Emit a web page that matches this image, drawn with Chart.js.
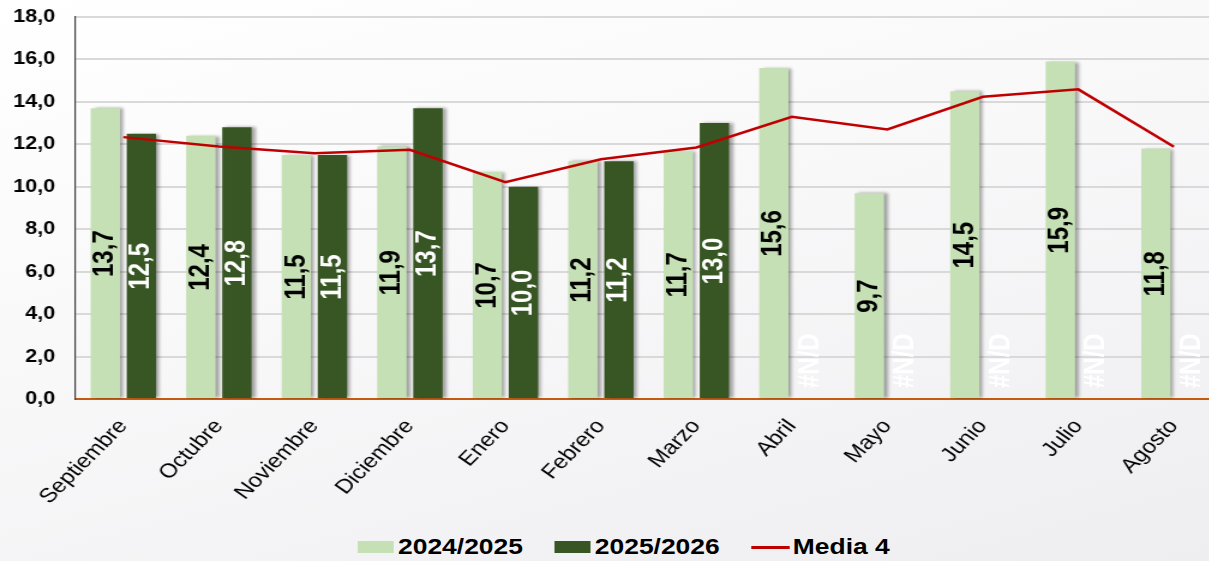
<!DOCTYPE html>
<html>
<head>
<meta charset="utf-8">
<script src="https://cdn.jsdelivr.net/npm/chart.js@4.4.1/dist/chart.umd.min.js"></script>
<style>
  html, body { margin: 0; padding: 0; }
  body {
    width: 1209px; height: 561px; overflow: hidden; position: relative;
    background: linear-gradient(165deg, #ffffff 0%, #f8f8f9 45%, #eeeef1 100%);
    font-family: "Liberation Sans", Arial, sans-serif;
  }
  #wrap {
    position: absolute; left: 0; top: 0; width: 1021px; height: 525px;
    transform: scaleX(1.2); transform-origin: 0 0;
  }
  #legend {
    position: absolute; left: 0; top: 532px; width: 1209px; height: 30px;
    display: flex; justify-content: center; align-items: center;
    font-weight: bold; font-size: 22px; color: #000;
    transform: translateX(19px) scaleX(1.2);
  }
  .item { display: flex; align-items: center; margin: 0 13px; }
  .box { width: 30px; height: 12px; margin-right: 4px; }
  .line { width: 32px; height: 3px; margin-right: 3px; }
</style>
</head>
<body>
<div id="wrap"><canvas id="c" width="1021" height="525"></canvas></div>
<div id="legend"></div>
<script>
const categories = ['Septiembre','Octubre','Noviembre','Diciembre','Enero','Febrero','Marzo','Abril','Mayo','Junio','Julio','Agosto'];
const serie2425 = [13.7, 12.4, 11.5, 11.9, 10.7, 11.2, 11.7, 15.6, 9.7, 14.5, 15.9, 11.8];
const serie2526 = [12.5, 12.8, 11.5, 13.7, 10.0, 11.2, 13.0, null, null, null, null, null];
const media4 = [12.34, 11.9, 11.58, 11.74, 10.22, 11.3, 11.85, 13.3, 12.7, 14.24, 14.59, 11.89];
const yTicks = [0, 2, 4, 6, 8, 10, 12, 14, 16, 18];

const names = ['2024/2025', '2025/2026', 'Media 4'];
const colors = ['#C5E0B4', '#375623', '#C00000'];

const fmt = v => v.toFixed(1).replace('.', ',');
const FONT = '"Liberation Sans", Arial, sans-serif';

const shadowPlugin = {
  id: 'barShadow',
  beforeDatasetDraw(chart, args) {
    if (args.meta.type !== 'bar') return;
    const ctx = chart.ctx;
    ctx.save();
    ctx.shadowColor = 'rgba(0,0,0,0.35)';
    ctx.shadowOffsetX = 3;
    ctx.shadowOffsetY = 0;
    ctx.shadowBlur = 3;
  },
  afterDatasetDraw(chart, args) {
    if (args.meta.type !== 'bar') return;
    chart.ctx.restore();
  }
};

const labelPlugin = {
  id: 'barLabels',
  afterDatasetsDraw(chart) {
    const ctx = chart.ctx;
    const yScale = chart.scales.y;
    const base = yScale.getPixelForValue(0);
    [0, 1].forEach(di => {
      const meta = chart.getDatasetMeta(di);
      const data = chart.data.datasets[di].data;
      meta.data.forEach((el, i) => {
        const v = data[i];
        ctx.save();
        ctx.font = 'bold 24px ' + FONT;
        ctx.fillStyle = di === 0 ? '#000000' : '#ffffff';
        ctx.textBaseline = 'middle';
        if (v === null || v === undefined) {
          ctx.translate(el.x, base - 11);
          ctx.rotate(-Math.PI / 2);
          ctx.textAlign = 'left';
          ctx.fillText('#N/D', 0, 0);
        } else {
          const top = yScale.getPixelForValue(v);
          ctx.translate(el.x, (top + base) / 2);
          ctx.rotate(-Math.PI / 2);
          ctx.textAlign = 'center';
          ctx.fillText(fmt(v), 0, 0);
        }
        ctx.restore();
      });
    });
  }
};

new Chart(document.getElementById('c'), {
  data: {
    labels: categories,
    datasets: [
      { type: 'bar', label: names[0], data: serie2425, backgroundColor: colors[0], order: 1,
        categoryPercentage: 0.755, barPercentage: 0.814 },
      { type: 'bar', label: names[1], data: serie2526, backgroundColor: colors[1], order: 1,
        categoryPercentage: 0.755, barPercentage: 0.814 },
      { type: 'line', label: names[2], data: media4, borderColor: colors[2], borderWidth: 2.5,
        pointRadius: 0, tension: 0, fill: false, order: 0 }
    ]
  },
  options: {
    responsive: false,
    animation: false,
    devicePixelRatio: 1,
    layout: { padding: { top: 17, right: 3, left: 0, bottom: 0 } },
    plugins: { legend: { display: false }, tooltip: { enabled: false } },
    scales: {
      x: {
        offset: true,
        grid: { display: false, drawTicks: false },
        border: { display: true, color: '#C55A11', width: 2 },
        ticks: {
          color: '#000', maxRotation: 50, minRotation: 50, padding: 16,
          font: { family: FONT, size: 20 }
        },
        afterFit(scale) {
          scale.height = 126;
          scale.paddingLeft = 0; scale.paddingRight = 0;
          scale.paddingTop = 0; scale.paddingBottom = 0;
        }
      },
      y: {
        min: 0, max: 18,
        afterBuildTicks(scale) { scale.ticks = yTicks.map(v => ({ value: v })); },
        grid: { color: '#D9D9D9', lineWidth: 2, drawTicks: false },
        border: { display: true, color: '#404040', width: 1.2 },
        ticks: {
          color: '#000', padding: 17,
          font: { family: FONT, size: 18, weight: 'bold' },
          callback: v => fmt(v)
        },
        afterFit(scale) {
          scale.width = 63;
          scale.paddingTop = 0; scale.paddingBottom = 0;
          scale.paddingLeft = 0; scale.paddingRight = 0;
        }
      }
    }
  },
  plugins: [shadowPlugin, labelPlugin]
});

// Legend
const legend = document.getElementById('legend');
names.forEach((n, i) => {
  const item = document.createElement('div');
  item.className = 'item';
  const mark = document.createElement('div');
  mark.className = i === 2 ? 'line' : 'box';
  mark.style.background = colors[i];
  const txt = document.createElement('span');
  txt.textContent = n;
  item.appendChild(mark);
  item.appendChild(txt);
  legend.appendChild(item);
});
</script>
</body>
</html>
